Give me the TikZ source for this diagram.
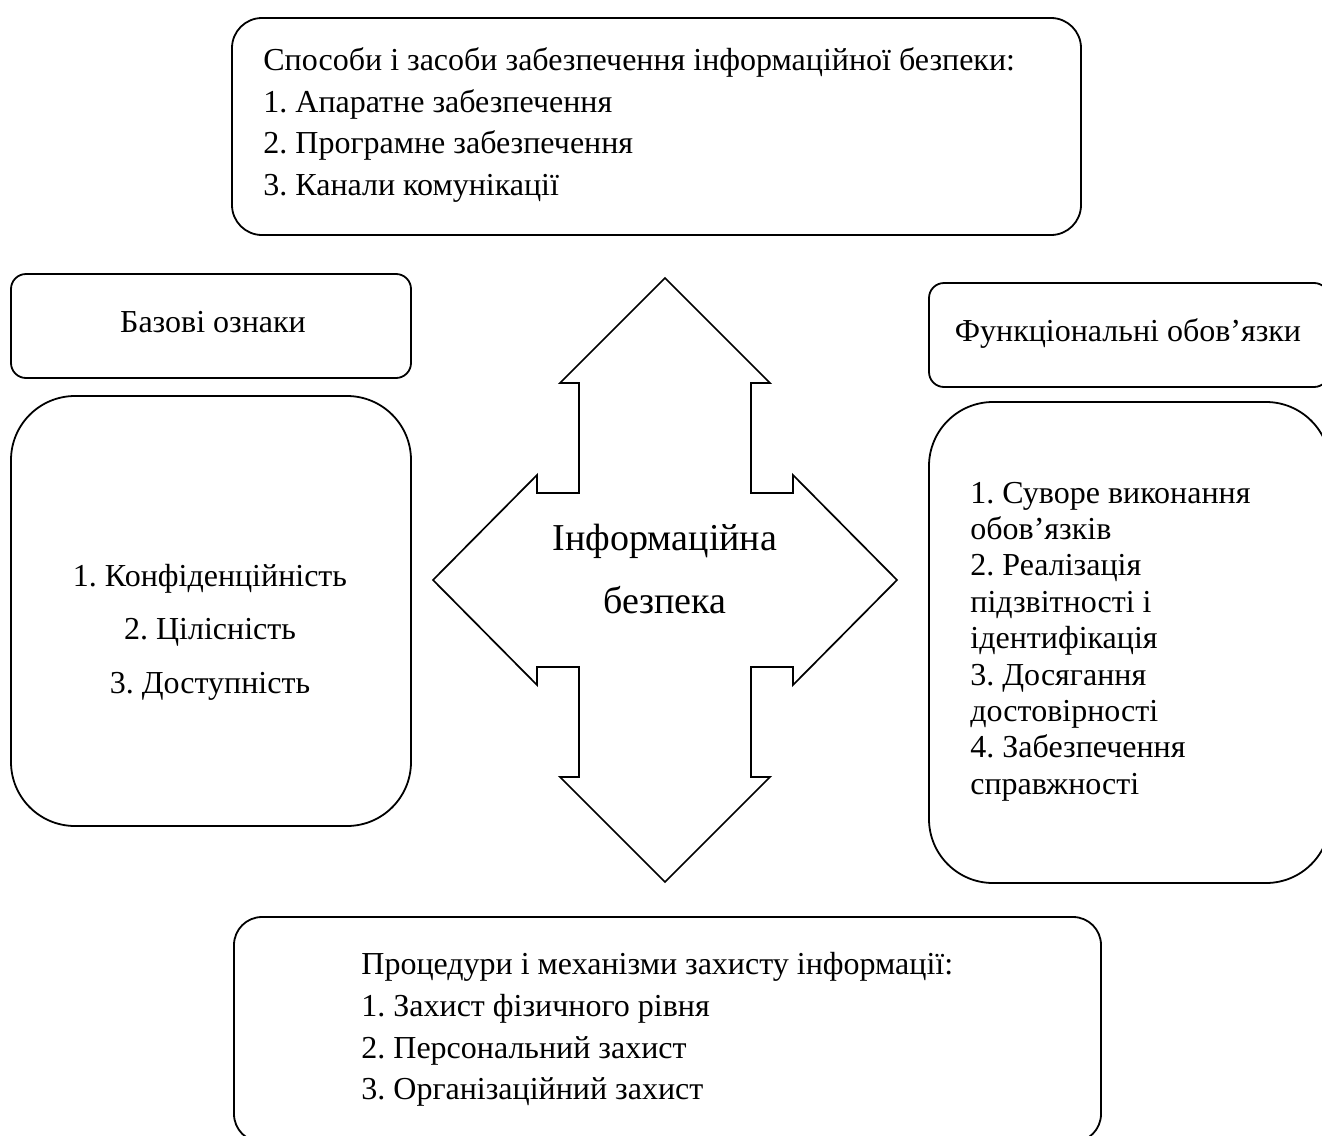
\documentclass[tikz,border=0pt]{standalone}
\usepackage{fontspec}
\setmainfont{Liberation Serif}
\frenchspacing

\begin{document}
\begin{tikzpicture}[x=0.5pt, y=-0.5pt,
    panel/.style={rectangle, draw=black, line width=0.9pt, inner sep=0pt},
    txt/.style={inner sep=0pt, font=\fontsize{16}{18.2}\selectfont}]
    \useasboundingbox (0,0) rectangle (1322,1135);
    \clip (0,0) rectangle (1322,1135);

    % frames
    \node[panel, rounded corners=15pt, minimum width=424.5pt, minimum height=108.5pt](tools) at (656.5,126.5) {};
    \node[panel, rounded corners=7.5pt, minimum width=200pt, minimum height=52pt](basehead) at (211,326) {};
    \node[panel, rounded corners=32pt, minimum width=200pt, minimum height=215pt](basebody) at (211,611) {};
    \node[panel, rounded corners=7.5pt, minimum width=200pt, minimum height=52pt](funchead) at (1129,335) {};
    \node[panel, rounded corners=32pt, minimum width=200.5pt, minimum height=240.5pt](funcbody) at (1129.5,642.5) {};
    \node[panel, rounded corners=14pt, minimum width=433.5pt, minimum height=112.5pt](procs) at (667.5,1029.5) {};

    % four-way arrow
    \draw[line width=0.85pt] (665,278) -- (770,383) -- (751,383) -- (751,493) -- (793,493) -- (793,475)
        -- (897,580) -- (793,685) -- (793,667) -- (751,667) -- (751,777) -- (770,777)
        -- (665,882) -- (560,777) -- (579,777) -- (579,667) -- (537,667) -- (537,685)
        -- (433,580) -- (537,475) -- (537,493) -- (579,493) -- (579,383) -- (560,383) -- cycle;

    % texts
    \node[txt, anchor=west, align=left, font=\fontsize{16}{20.7}\selectfont](toolstext) at (263,125)
        {Способи і засоби забезпечення інформаційної безпеки:\\1. Апаратне забезпечення\\2. Програмне забезпечення\\3. Канали комунікації};
    \node[txt](baseheadtext) at (213,322) {Базові ознаки};
    \node[txt, align=center, font=\fontsize{16}{26.75}\selectfont](basebodytext) at (210,632)
        {1. Конфіденційність\\2. Цілісність\\3. Доступність};
    \node[txt](funcheadtext) at (1128,333) {Функціональні обов’язки};
    \node[txt, anchor=west, align=left](funcbodytext) at (970,641.5)
        {1. Суворе виконання\\обов’язків\\2. Реалізація\\підзвітності і\\ідентифікація\\3. Досягання\\достовірності\\4. Забезпечення\\справжності};
    \node[txt, align=center, font=\fontsize{19}{31.5}\selectfont](hubtext) at (665,569) {Інформаційна\\безпека};
    \node[txt, anchor=west, align=left, font=\fontsize{16}{20.8}\selectfont](procstext) at (361,1029.5)
        {Процедури і механізми захисту інформації:\\1. Захист фізичного рівня\\2. Персональний захист\\3. Організаційний захист};
\end{tikzpicture}
\end{document}
